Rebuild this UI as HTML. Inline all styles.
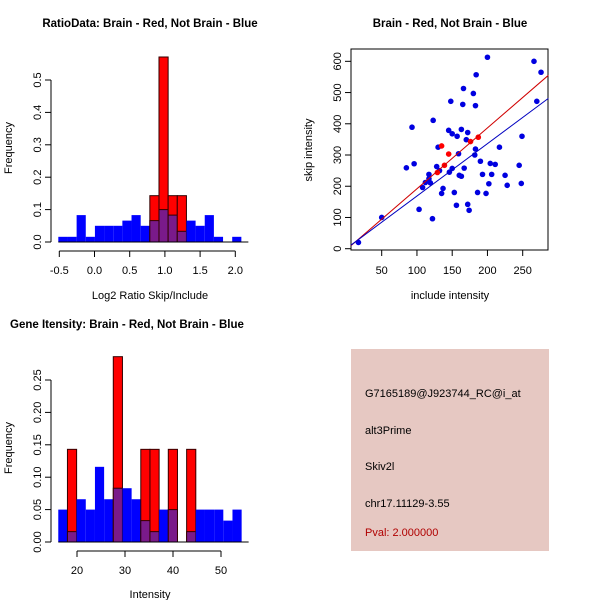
<!DOCTYPE html>
<html><head><meta charset="utf-8"><style>
html,body{margin:0;padding:0;background:#fff;}
svg{display:block;font-family:"Liberation Sans",sans-serif;}
</style></head><body>
<svg id="c" width="600" height="600" viewBox="0 0 600 600">
<text x="150" y="27" text-anchor="middle" font-size="11.5" font-weight="bold">RatioData: Brain - Red, Not Brain - Blue</text>
<text x="450" y="27" text-anchor="middle" font-size="11.5" font-weight="bold">Brain - Red, Not Brain - Blue</text>
<text x="10" y="328" font-size="11.5" font-weight="bold">Gene Itensity: Brain - Red, Not Brain - Blue</text>
<text x="150" y="299" text-anchor="middle" font-size="11">Log2 Ratio Skip/Include</text>
<text x="450" y="299" text-anchor="middle" font-size="11">include intensity</text>
<text x="150" y="598" text-anchor="middle" font-size="11">Intensity</text>
<text transform="translate(12,148) rotate(-90)" text-anchor="middle" font-size="11">Frequency</text>
<text transform="translate(312,150) rotate(-90)" text-anchor="middle" font-size="11">skip intensity</text>
<text transform="translate(12,448) rotate(-90)" text-anchor="middle" font-size="11">Frequency</text>
<rect x="351" y="49" width="197" height="201" fill="none" stroke="#000"/>
<g>
<rect x="351" y="349" width="198" height="202" fill="#e6c8c2"/>
<text x="365" y="397" font-size="11">G7165189@J923744_RC@i_at</text>
<text x="365" y="434" font-size="11">alt3Prime</text>
<text x="365" y="470" font-size="11">Skiv2l</text>
<text x="365" y="507" font-size="11">chr17.11129-3.55</text>
<text x="365" y="536" font-size="11" fill="#b00000">Pval: 2.000000</text>
</g>
</svg>
<script>
// Ratio histogram data
const ratioStart = -0.514;
const ratioBin = 0.13;
const ratioBlue = [0.016,0.016,0.083,0.016,0.05,0.05,0.05,0.066,0.083,0.05,0.066,0.1,0.083,0.033,0.066,0.05,0.083,0.016,0,0.016];
const ratioRed = [0,0,0,0,0,0,0,0,0,0,0.143,0.571,0.143,0.143,0,0,0,0,0,0];
const ratioXTicks = [-0.5,0.0,0.5,1.0,1.5,2.0];
const ratioXLabels = ["-0.5","0.0","0.5","1.0","1.5","2.0"];
const ratioYTicks = [0,0.1,0.2,0.3,0.4,0.5];
const ratioYLabels = ["0.0","0.1","0.2","0.3","0.4","0.5"];
// Intensity histogram data
const intStart = 16.1;
const intBin = 1.91;
const intBlue = [0.05,0.016,0.066,0.05,0.116,0.066,0.083,0.083,0.066,0.033,0.016,0.05,0.05,0,0.016,0.05,0.05,0.05,0.033,0.05];
const intRed = [0,0.143,0,0,0,0,0.286,0,0,0.143,0.143,0,0.143,0,0.143,0,0,0,0,0];
const intXTicks = [20,30,40,50];
const intYTicks = [0,0.05,0.1,0.15,0.2,0.25];
const intYLabels = ["0.00","0.05","0.10","0.15","0.20","0.25"];
// Scatter data
const blueX = [17,50,85,96,93,123,103,108,112,117,119,117,122,128,130,132,135,137,145,146,148,150,157,163,172,150,153,156,159,160,163,165,166,167,170,172,174,180,183,184,183,182,186,190,193,198,200,202,204,206,211,217,225,228,245,248,249,266,270,276];
const blueY = [20,100,259,272,389,411,126,196,212,238,211,224,96,263,325,250,177,193,379,245,472,368,360,382,372,257,180,139,304,235,232,462,513,258,349,142,123,497,458,557,319,300,180,280,238,177,613,208,273,238,270,325,235,203,267,209,360,600,472,565];
const redX = [129,135,139,145,176,187];
const redY = [244,329,267,303,343,357];
const lineSlope = [1.949,1.678];
const lineIntercept = [-3,0.8];
const lineColor = ["#d00000","#0000c0"];
const scXTicks = [50,100,150,200,250];
const scYTicks = [0,100,200,300,400,500,600];

const svg = document.getElementById('c');
const NS = 'http://www.w3.org/2000/svg';
function mk(tag, attrs){const e=document.createElementNS(NS,tag);for(const k in attrs)e.setAttribute(k,attrs[k]);svg.appendChild(e);return e;}

function hist(o){
  const sx=v=>o.x0+(v-o.v0)*o.kx, sy=v=>o.y0-v*o.ky;
  for(let i=0;i<o.blue.length;i++){
    const l=sx(o.start+i*o.bin), r=sx(o.start+(i+1)*o.bin), b=o.blue[i], rd=o.red[i];
    if(rd>0){const e=mk('rect',{x:l,y:sy(rd),width:r-l,height:rd*o.ky,fill:'#ff0000',stroke:'#300','stroke-width':1});
      
      }
    if(b>0){const e=mk('rect',{x:l,y:sy(b),width:r-l,height:b*o.ky,fill:rd>0?'#7a1a8a':'#0000ff',stroke:rd>0?'#300':'none','stroke-width':1});
      
      
      if(rd>0 && rd<b){e.setAttribute('y',sy(rd));e.setAttribute('height',rd*o.ky);
        const e2=mk('rect',{x:l,y:sy(b),width:r-l,height:(b-rd)*o.ky,fill:'#0000ff'});
        
        }}
  }
  const base=mk('line',{x1:sx(o.start),x2:sx(o.start+o.blue.length*o.bin)+7,y1:o.y0,y2:o.y0,stroke:'#000'});
  
  
  const ya=mk('line',{x1:51,x2:51,y1:sy(o.yt[0]),y2:sy(o.yt[o.yt.length-1]),stroke:'#000'});
  
  
  o.yt.forEach((v,i)=>{mk('line',{x1:45,x2:51,y1:sy(v),y2:sy(v),stroke:'#000'});
    const t=mk('text',{transform:`translate(41,${sy(v)}) rotate(-90)`,'text-anchor':'middle','font-size':11});t.textContent=o.yl[i];
    
    });
  const ax=o.y0+9;
  const xa=mk('line',{x1:sx(o.xt[0]),x2:sx(o.xt[o.xt.length-1]),y1:ax,y2:ax,stroke:'#000'});
  
  
  o.xt.forEach((v,i)=>{mk('line',{x1:sx(v),x2:sx(v),y1:ax,y2:ax+6,stroke:'#000'});
    const t=mk('text',{x:sx(v),y:ax+23,'text-anchor':'middle','font-size':11});t.textContent=o.xl[i];
    
    });
}
hist({p:'ratio',start:ratioStart,bin:ratioBin,blue:ratioBlue,red:ratioRed,x0:59.3,v0:-0.5,kx:70.4,y0:242,ky:324,xt:ratioXTicks,xl:ratioXLabels,yt:ratioYTicks,yl:ratioYLabels});
hist({p:'intensity',start:intStart,bin:intBin,blue:intBlue,red:intRed,x0:77,v0:20,kx:4.8,y0:542,ky:648,xt:intXTicks,xl:intXTicks.map(String),yt:intYTicks,yl:intYLabels});

// scatter
const scx=v=>381.7+(v-50)*0.705, scy=v=>248.7-v*0.3123;
scXTicks.forEach(v=>{mk('line',{x1:scx(v),x2:scx(v),y1:250,y2:256,stroke:'#000'});
  const t=mk('text',{x:scx(v),y:274,'text-anchor':'middle','font-size':11});t.textContent=v;
  
  });
scYTicks.forEach(v=>{mk('line',{x1:345,x2:351,y1:scy(v),y2:scy(v),stroke:'#000'});
  const t=mk('text',{transform:`translate(341,${scy(v)}) rotate(-90)`,'text-anchor':'middle','font-size':11});t.textContent=v;
  
  });
blueX.forEach((x,i)=>{const c=mk('circle',{cx:scx(x),cy:scy(blueY[i]),r:2.8,fill:'#0000e0'});
  
  });
redX.forEach((x,i)=>{const c=mk('circle',{cx:scx(x),cy:scy(redY[i]),r:2.8,fill:'#ff0000'});
  
  });
const xa=6.5, xb=286.4;
lineSlope.forEach((m,i)=>{const l=mk('line',{x1:scx(xa),y1:scy(m*xa+lineIntercept[i]),x2:scx(xb),y2:scy(m*xb+lineIntercept[i]),stroke:lineColor[i],'stroke-width':1});
  
  });
</script>
</body></html>
